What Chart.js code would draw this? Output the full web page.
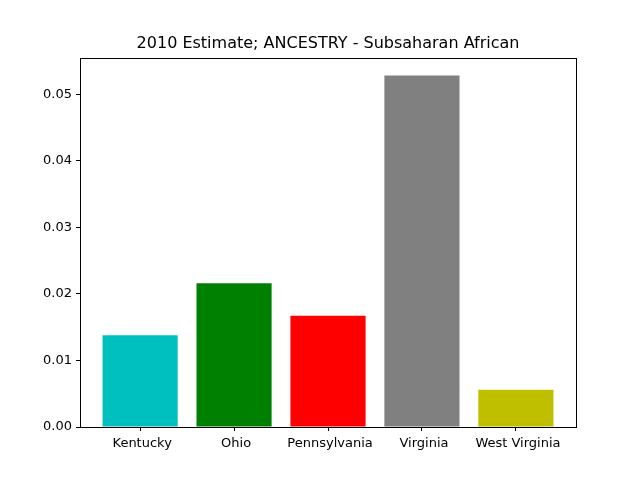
<!DOCTYPE html>
<html>
<head>
<meta charset="utf-8">
<script src="https://cdn.jsdelivr.net/npm/chart.js@4"></script>
<style>
  html, body { margin: 0; padding: 0; background: #fff; }
  #wrap { width: 640px; height: 480px; }
</style>
</head>
<body>
<div id="wrap"><canvas id="chart" width="640" height="480"></canvas></div>
<script>
const states = [' Kentucky', ' Ohio', ' Pennsylvania', ' Virginia', ' West Virginia'];
const values = [0.0138, 0.0216, 0.0167, 0.0528, 0.0056];
const barColors = ['#00bfbf', '#008000', '#ff0000', '#808080', '#bfbf00'];
const yTicks = [0, 0.01, 0.02, 0.03, 0.04, 0.05];
const titleText = '2010 Estimate; ANCESTRY - Subsaharan African';

// box around the plot area plus a title centred over it, like matplotlib
const frame = {
    id: 'frame',
    afterDatasetsDraw(chart) {
        const { ctx, chartArea: a } = chart;
        ctx.save();
        ctx.strokeStyle = '#000';
        ctx.lineWidth = 1;
        ctx.strokeRect(Math.round(a.left) + 0.5, Math.round(a.top) + 0.5,
            Math.round(a.right - a.left), Math.round(a.bottom - a.top));
        ctx.fillStyle = '#000';
        ctx.font = '16px "DejaVu Sans"';
        ctx.textAlign = 'center';
        ctx.textBaseline = 'middle';
        ctx.fillText(titleText, (a.left + a.right) / 2, a.top - 14);
        ctx.restore();
    }
};

const font = { family: 'DejaVu Sans', size: 13 };

new Chart(document.getElementById('chart'), {
    type: 'bar',
    data: {
        datasets: [{
            data: values.map((v, i) => ({ x: i, y: v })),
            backgroundColor: barColors,
            borderWidth: 0,
            inflateAmount: 0,
            barPercentage: 0.8,
            categoryPercentage: 1.0,
        }]
    },
    options: {
        responsive: false,
        animation: false,
        layout: { padding: { left: 0, right: 64, top: 58, bottom: 0 } },
        plugins: {
            legend: { display: false },
            tooltip: { enabled: false },
            title: { display: false }
        },
        scales: {
            x: {
                type: 'linear',
                offset: false,
                min: -0.64,
                max: 4.64,
                afterBuildTicks: (s) => { s.ticks = states.map((_, i) => ({ value: i })); },
                afterFit: (s) => { s.height = 53; },
                ticks: {
                    color: '#000',
                    font: font,
                    maxRotation: 0,
                    autoSkip: false,
                    padding: 5,
                    callback: (v) => states[v]
                },
                grid: { drawOnChartArea: false, offset: false, tickLength: 4, color: '#000' },
                border: { display: true, color: '#000' }
            },
            y: {
                min: 0,
                max: 0.05544,
                afterBuildTicks: (s) => { s.ticks = yTicks.map(v => ({ value: v })); },
                afterFit: (s) => { s.width = 80; },
                ticks: {
                    color: '#000',
                    font: font,
                    padding: 4,
                    callback: (v) => v.toFixed(2)
                },
                grid: { drawOnChartArea: false, tickLength: 4, color: '#000' },
                border: { display: true, color: '#000' }
            }
        }
    },
    plugins: [frame]
});
</script>
</body>
</html>
